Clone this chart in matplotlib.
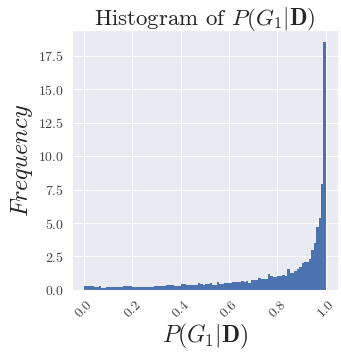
import numpy as np
import matplotlib
matplotlib.use("Agg")
import matplotlib.pyplot as plt
import seaborn as sns

# density of each of the 100 bins on [0, 1]
heights = [
    0.30, 0.28, 0.30, 0.27, 0.20, 0.22, 0.26, 0.18, 0.17, 0.20,
    0.22, 0.21, 0.23, 0.20, 0.21, 0.25, 0.32, 0.30, 0.28, 0.27,
    0.24, 0.22, 0.20, 0.21, 0.19, 0.20, 0.22, 0.25, 0.24, 0.26,
    0.28, 0.27, 0.30, 0.31, 0.37, 0.38, 0.35, 0.30, 0.28, 0.32,
    0.43, 0.41, 0.37, 0.39, 0.38, 0.40, 0.37, 0.50, 0.42, 0.40,
    0.48, 0.47, 0.49, 0.38, 0.39, 0.57, 0.45, 0.46, 0.50, 0.52,
    0.50, 0.62, 0.57, 0.58, 0.56, 0.70, 0.57, 0.70, 0.55, 0.75,
    0.74, 0.76, 0.90, 0.82, 0.84, 0.80, 1.20, 1.05, 0.98, 1.00,
    1.02, 1.05, 1.08, 1.02, 1.58, 1.25, 1.30, 1.42, 1.55, 1.72,
    2.02, 2.06, 2.08, 2.28, 3.00, 3.50, 4.70, 5.40, 7.90, 18.50,
]
bin_edges = np.linspace(0, 1, len(heights) + 1)
bin_centers = (bin_edges[:-1] + bin_edges[1:]) / 2

sns.set_style("darkgrid")
plt.rcParams["font.family"] = "serif"
plt.rcParams["font.serif"] = ["cmr10", "DejaVu Serif"]
plt.rcParams["mathtext.fontset"] = "cm"
plt.rcParams["axes.formatter.use_mathtext"] = True

fig = plt.figure(figsize=(3.41, 3.54), dpi=100)
ax = fig.add_axes([0.211, 0.181, 0.78, 0.734])

ax.hist(bin_centers, bins=bin_edges, weights=heights, color="#4C72B0",
        linewidth=0)

# Title and labels:
ax.set_title(r"Histogram of $P(G_1|\mathbf{D})$", fontsize=16.5, pad=4)
ax.set_xlabel(r"$P(G_1|\mathbf{D})$", fontsize=17, labelpad=1)
ax.set_ylabel(r"$Frequency$", fontsize=17.5, labelpad=2)

ax.set_yticks([0, 2.5, 5, 7.5, 10, 12.5, 15, 17.5])
ax.tick_params(axis="both", labelsize=10, pad=2, labelcolor="#444444")
plt.setp(ax.get_xticklabels(), rotation=45)
ax.grid(color="white", linewidth=0.7)

fig.savefig("out.png", dpi=100)
